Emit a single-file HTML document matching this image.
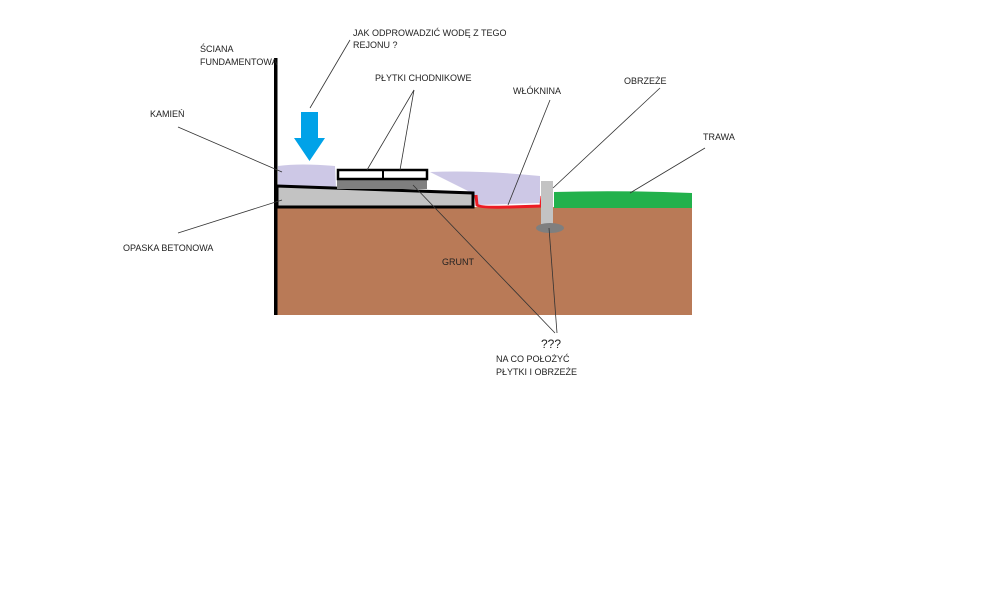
<!DOCTYPE html>
<html><head><meta charset="utf-8"><style>
body{margin:0;width:1000px;height:593px;background:#fff;overflow:hidden}
svg{display:block}
text{font-family:"Liberation Sans",sans-serif;font-size:9px;fill:#222}
</style></head><body>
<svg width="1000" height="593" viewBox="0 0 1000 593">
<rect x="277" y="207" width="415" height="108" fill="#b97a57"/>
<path d="M278 166 Q300 163 335 166 L336 188 L278 187Z" fill="#cdc8e6"/>
<path d="M430 172 Q480 170 540 176 L540 203 L478 205 L472 193Z" fill="#cdc8e6"/>
<path d="M554 192 Q620 190 692 193 L692 208 L554 208Z" fill="#22b14c"/>
<path d="M277 186 L473 193 L473 207 L277 207Z" fill="#c3c3c3" stroke="#000" stroke-width="3"/>
<rect x="337" y="179" width="90" height="10" fill="#7f7f7f"/>
<rect x="338" y="170" width="89" height="9" fill="#fff" stroke="#000" stroke-width="2.5"/>
<line x1="383" y1="170" x2="383" y2="179" stroke="#000" stroke-width="2"/>
<path d="M476 195 L477 205 Q480 208 510 207 L541 206 L542 196" fill="none" stroke="#ed1c24" stroke-width="3"/>
<rect x="541" y="181" width="12" height="43" fill="#c3c3c3"/>
<ellipse cx="550" cy="228" rx="14" ry="5" fill="#7f7f7f"/>
<rect x="274" y="58" width="3.5" height="257" fill="#000"/>
<path d="M301 112 H318 V138 H325 L309.5 161 L294 138 H301Z" fill="#00a2e8"/>
<g stroke="#333" stroke-width="0.8" fill="none">
<line x1="178" y1="127" x2="282" y2="172"/>
<line x1="178" y1="233" x2="282" y2="200"/>
<line x1="350" y1="40" x2="310" y2="108"/>
<line x1="414" y1="90" x2="367" y2="170"/>
<line x1="414" y1="90" x2="400" y2="170"/>
<line x1="550" y1="100" x2="508" y2="205"/>
<line x1="660" y1="88" x2="553" y2="188"/>
<line x1="705" y1="148" x2="630" y2="193"/>
<line x1="555" y1="333" x2="413" y2="185"/>
<line x1="557" y1="333" x2="549" y2="228"/>
</g>
<text x="200" y="52">ŚCIANA</text>
<text x="200" y="65">FUNDAMENTOWA</text>
<text x="150" y="117">KAMIEŃ</text>
<text x="353" y="36">JAK ODPROWADZIĆ WODĘ Z TEGO</text>
<text x="353" y="48">REJONU ?</text>
<text x="375" y="81">PŁYTKI CHODNIKOWE</text>
<text x="513" y="94">WŁÓKNINA</text>
<text x="624" y="84">OBRZEŻE</text>
<text x="703" y="140">TRAWA</text>
<text x="123" y="251">OPASKA BETONOWA</text>
<text x="442" y="265">GRUNT</text>
<text x="541" y="348" style="font-size:12px">???</text>
<text x="496" y="362">NA CO POŁOŻYĆ</text>
<text x="496" y="375">PŁYTKI I OBRZEŻE</text>
</svg>
</body></html>
